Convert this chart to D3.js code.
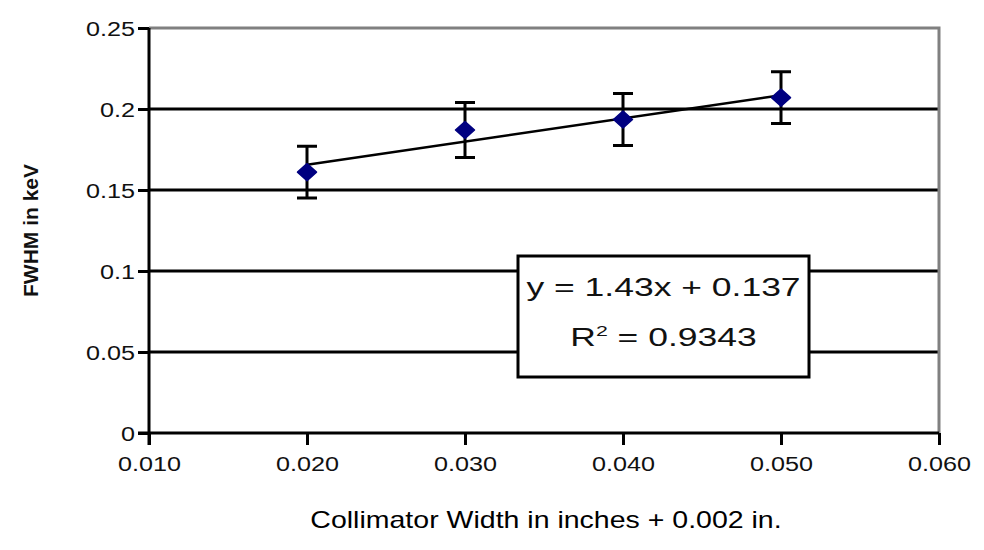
<!DOCTYPE html>
<html><head><meta charset="utf-8">
<script src="https://cdn.jsdelivr.net/npm/d3@7"></script>
<style>body{margin:0;background:#fff}svg{display:block}</style>
</head><body>
<svg id="c" width="984" height="550"></svg>
<script>
// ---- data ----
const xValues = [0.020, 0.030, 0.040, 0.050];
const yValues = [0.161, 0.187, 0.1935, 0.207];
const yErrors = [0.016, 0.017, 0.016, 0.016];
const xTicks = [0.010, 0.020, 0.030, 0.040, 0.050, 0.060];
const yTicks = [0, 0.05, 0.1, 0.15, 0.2, 0.25];
const trendSlope = 1.43, trendIntercept = 0.137;
const eqLine1 = "y = 1.43x + 0.137";
const eqR2 = "0.9343";
const xTitle = "Collimator Width in inches + 0.002 in.";
const yTitle = "FWHM in keV";

// ---- layout ----
const FONT = "'Liberation Sans', Arial, sans-serif";
const L = 149, R = 939, T = 28, B = 433;
const SX = 1.2; // horizontal text stretch
const svg = d3.select("#c");
const x = d3.scaleLinear().domain([0.01, 0.06]).range([L, R]);
const y = d3.scaleLinear().domain([0, 0.25]).range([B, T]);

// gridlines
svg.append("g").selectAll("line").data(yTicks.filter(v => v > 0 && v < 0.25)).join("line")
  .attr("x1", L).attr("x2", R).attr("y1", d => y(d)).attr("y2", d => y(d))
  .attr("stroke", "#000").attr("stroke-width", 3);

// plot border top/right (gray)
svg.append("path").attr("d", `M${L},${T}H${R}V${B}`).attr("fill", "none")
  .attr("stroke", "#808080").attr("stroke-width", 3);

// axes
const yAxis = svg.append("g").attr("transform", `translate(${L},0)`)
  .call(d3.axisLeft(y).tickValues(yTicks).tickSize(11).tickPadding(0)
    .tickFormat(d => d === 0 ? "0" : String(+d.toFixed(2))));
const xAxis = svg.append("g").attr("transform", `translate(0,${B})`)
  .call(d3.axisBottom(x).tickValues(xTicks).tickSize(12).tickPadding(0)
    .tickFormat(d3.format(".3f")));
[yAxis, xAxis].forEach(g => {
  g.select(".domain").attr("stroke", "#000").attr("stroke-width", 3);
  g.selectAll(".tick line").attr("stroke", "#000").attr("stroke-width", 3);
});
xAxis.select(".domain").attr("d", `M${L - 11},0H${R}`);
yAxis.select(".domain").attr("d", `M0,${T}V${B + 12}`);
yAxis.selectAll(".tick text").attr("x", 0).attr("dy", "0.35em")
  .attr("transform", `translate(-14,0) scale(${SX},1)`)
  .attr("font-family", FONT).attr("font-size", 21).attr("fill", "#111");
xAxis.selectAll(".tick text").attr("y", 0).attr("dy", 0)
  .attr("transform", `translate(0,38) scale(${SX},1)`)
  .attr("font-family", FONT).attr("font-size", 21).attr("fill", "#111");

// trendline
const tl = d3.line().x(d => x(d)).y(d => y(trendSlope * d + trendIntercept));
svg.append("path").attr("d", tl([d3.min(xValues), d3.max(xValues)]))
  .attr("stroke", "#000").attr("stroke-width", 2.5).attr("fill", "none");

// error bars
const pts = xValues.map((v, i) => ({x: v, y: yValues[i], e: yErrors[i]}));
const eb = svg.append("g").attr("stroke", "#000").attr("stroke-width", 3);
eb.selectAll("path").data(pts).join("path").attr("fill", "none")
  .attr("d", d => {
    const cx = x(d.x), y1 = y(d.y + d.e), y2 = y(d.y - d.e);
    return `M${cx - 10},${y1}H${cx + 10}M${cx},${y1}V${y2}M${cx - 10},${y2}H${cx + 10}`;
  });

// markers (diamonds)
svg.append("g").selectAll("path").data(pts).join("path")
  .attr("d", d => { const cx = x(d.x), cy = y(d.y);
    return `M${cx},${cy - 8.5}L${cx + 9.5},${cy}L${cx},${cy + 8.5}L${cx - 9.5},${cy}Z`; })
  .attr("fill", "#000080").attr("stroke", "#000080").attr("stroke-width", 1.5)
  .attr("stroke-linejoin", "round");

// equation box
const bx = 518, by = 256, bw = 291, bh = 121;
svg.append("rect").attr("x", bx).attr("y", by).attr("width", bw).attr("height", bh)
  .attr("fill", "#fff").attr("stroke", "#000").attr("stroke-width", 3);
const cxBox = bx + bw / 2;
const EQ_SX = 1.42;
svg.append("text").attr("transform", `translate(${cxBox},${by + 40}) scale(${EQ_SX},1)`)
  .attr("text-anchor", "middle").attr("font-family", FONT).attr("font-size", 25)
  .attr("fill", "#111").text(eqLine1);
const r2 = svg.append("text").attr("transform", `translate(${cxBox},${by + 90}) scale(${EQ_SX},1)`)
  .attr("text-anchor", "middle").attr("font-family", FONT).attr("font-size", 25)
  .attr("fill", "#111");
r2.append("tspan").text("R");
r2.append("tspan").attr("font-size", 15).attr("dy", -10).text("2");
r2.append("tspan").attr("dy", 10).text(" = " + eqR2);

// axis titles
svg.append("text").attr("transform", `translate(546,528) scale(1.24,1)`)
  .attr("text-anchor", "middle").attr("font-family", FONT).attr("font-size", 23)
  .attr("fill", "#000").text(xTitle);
svg.append("text").attr("transform", `translate(38,${(T + B) / 2}) rotate(-90)`)
  .attr("text-anchor", "middle").attr("font-family", FONT).attr("font-size", 21)
  .attr("font-weight", "bold").attr("fill", "#111").text(yTitle);
</script>
</body></html>
